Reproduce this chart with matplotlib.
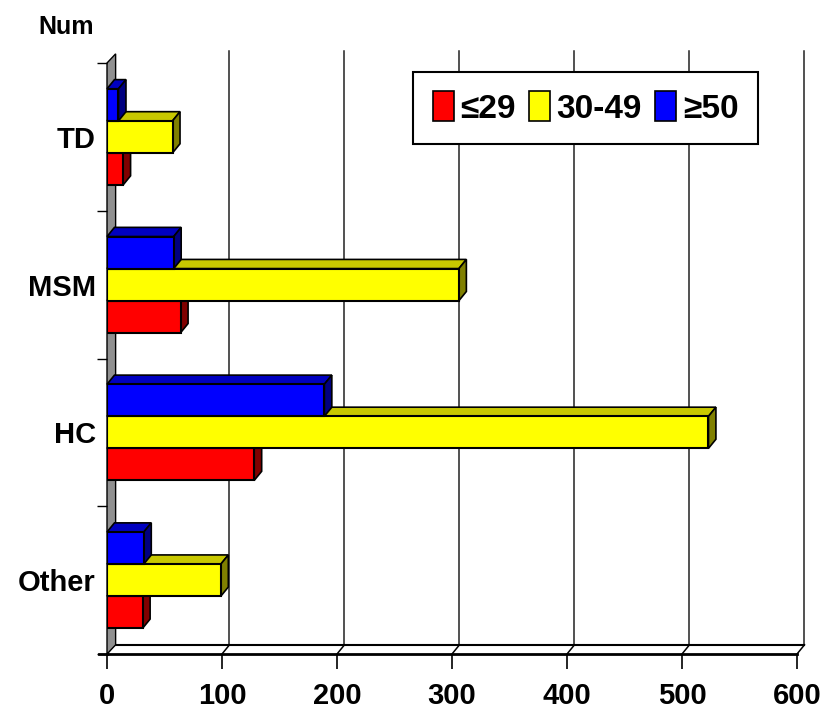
import matplotlib
matplotlib.use('Agg')
import matplotlib.pyplot as plt
from matplotlib.patches import Polygon, Patch

# counts per transmission group and age band
categories = ['Other', 'HC', 'MSM', 'TD']
age_groups = ['≤29', '30-49', '≥50']
age_young = [31, 128, 64, 14]
age_middle = [99, 523, 306, 57]
age_older = [32, 189, 58, 10]
xticks = [0, 100, 200, 300, 400, 500, 600]

front_col = ['#FF0000', '#FFFF00', '#0000FF']
top_col = ['#C00000', '#C8C800', '#0000C0']
side_col = ['#800000', '#808000', '#000080']

plt.rcParams['font.family'] = ['Liberation Sans', 'DejaVu Sans']
plt.rcParams['font.weight'] = 'bold'

fig = plt.figure(figsize=(8.32, 7.17), dpi=100)
ax = fig.add_axes([107 / 832, 1 - 654 / 717, 690 / 832, 591 / 717])
ax.set_xlim(0, 600)
ax.set_ylim(-0.5, 3.5)

dx, dy = 6.5, 0.062   # depth of the fake 3-D box, in data units
h = 0.217             # bar thickness

# back wall gridlines and floor
for v in xticks[1:]:
    ax.plot([v + dx, v + dx], [-0.5 + dy, 3.5 + dy + 0.02], color='#222222', lw=1.1,
            zorder=1, clip_on=False)
for v in xticks:
    ax.plot([v, v + dx], [-0.5, -0.5 + dy], color='black', lw=1.1, zorder=1, clip_on=False)
ax.plot([dx, 600 + dx], [-0.5 + dy, -0.5 + dy], color='black', lw=1.5, zorder=1, clip_on=False)
ax.plot([-7, 0], [-0.5, -0.5], color='black', lw=2, zorder=1, clip_on=False)

# grey side wall on the left
ax.add_patch(Polygon([(0, -0.5), (dx + 1, -0.5 + dy), (dx + 1, 3.5 + dy), (0, 3.5)],
                     closed=True, fc='#909090', ec='black', lw=1, zorder=1.5, clip_on=False))

series = [age_young, age_middle, age_older]
offsets = [-h, 0, h]
for i, (vals, off) in enumerate(zip(series, offsets)):
    ys = [k + off for k in range(len(categories))]
    bars = ax.barh(ys, vals, height=h, color=front_col[i], edgecolor='black',
                   linewidth=1.5, zorder=3 + i)
    for r in bars:
        w, yb, yt = r.get_width(), r.get_y(), r.get_y() + r.get_height()
        ax.add_patch(Polygon([(0, yt), (dx, yt + dy), (w + dx, yt + dy), (w, yt)],
                             closed=True, fc=top_col[i], ec='black', lw=1.2,
                             zorder=2.5 + i, clip_on=False))
        ax.add_patch(Polygon([(w, yb), (w + dx, yb + dy), (w + dx, yt + dy), (w, yt)],
                             closed=True, fc=side_col[i], ec='black', lw=1.2,
                             zorder=2.5 + i, clip_on=False))

ax.set_xticks(xticks)
ax.tick_params(axis='x', length=11, width=1.2, pad=9, labelsize=21)
ax.set_yticks(range(len(categories)), categories)
ax.set_yticks([-0.5, 0.5, 1.5, 2.5, 3.5], minor=True)
ax.tick_params(axis='y', which='major', length=0, pad=8, labelsize=21)
ax.tick_params(axis='y', which='minor', length=7, width=1)
for s in ['top', 'right', 'left']:
    ax.spines[s].set_visible(False)
ax.spines['bottom'].set_linewidth(2)

fig.text(66 / 832, 1 - 27 / 717, 'Num', ha='center', va='center', fontsize=18, fontweight='bold')

handles = [Patch(facecolor=c, edgecolor='black', lw=1.2) for c in front_col]
leg = ax.legend(handles, age_groups, loc='upper right',
                bbox_to_anchor=(758 / 832, 1 - 72 / 717), bbox_transform=fig.transFigure,
                ncol=3, fontsize=24, handlelength=0.63, handleheight=1.0,
                handletextpad=0.2, columnspacing=0.4, borderpad=0.58,
                borderaxespad=0, fancybox=False, framealpha=1)
leg.get_frame().set_edgecolor('black')
leg.get_frame().set_linewidth(1.5)
leg.set_zorder(10)

fig.savefig('out.png', dpi=100)
